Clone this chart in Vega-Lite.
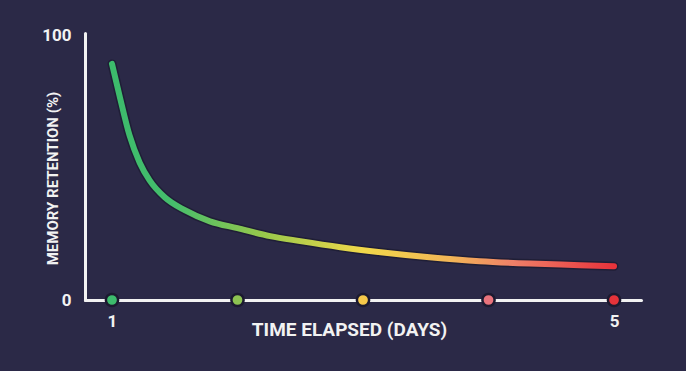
{
  "$schema": "https://vega.github.io/schema/vega-lite/v6.json",
  "autosize": {"type": "none"},
  "width": 556,
  "height": 267,
  "padding": {"left": 85, "top": 33, "right": 45, "bottom": 71},
  "background": "#2b2947",
  "config": {
    "view": {"stroke": null},
    "font": "Roboto",
    "axis": {
      "domainColor": "#f2f2f2",
      "domainWidth": 3,
      "domainCap": "round",
      "ticks": false,
      "grid": false,
      "labelColor": "#f2f2f2",
      "labelFont": "Roboto",
      "labelFontWeight": "bold",
      "labelFontSize": 17,
      "titleColor": "#f2f2f2",
      "titleFont": "Roboto",
      "titleFontWeight": "bold"
    }
  },
  "datasets": {
    "curve": [
      {"day": 1.0, "retention": 89.4},
      {"day": 1.06, "retention": 77.4},
      {"day": 1.14, "retention": 62.3},
      {"day": 1.22, "retention": 52.1},
      {"day": 1.3, "retention": 45.3},
      {"day": 1.42, "retention": 38.9},
      {"day": 1.58, "retention": 34.0},
      {"day": 1.78, "retention": 29.8},
      {"day": 2.0, "retention": 27.2},
      {"day": 2.26, "retention": 24.2},
      {"day": 2.5, "retention": 22.3},
      {"day": 2.82, "retention": 20.0},
      {"day": 3.14, "retention": 18.1},
      {"day": 3.53, "retention": 16.2},
      {"day": 3.93, "retention": 14.7},
      {"day": 4.33, "retention": 13.8},
      {"day": 4.73, "retention": 13.2},
      {"day": 5.0, "retention": 12.8}
    ],
    "days": [
      {"day": 1, "retention": 0},
      {"day": 2, "retention": 0},
      {"day": 3, "retention": 0},
      {"day": 4, "retention": 0},
      {"day": 5, "retention": 0}
    ]
  },
  "encoding": {
    "x": {
      "field": "day",
      "type": "quantitative",
      "scale": {"domain": [0.785, 5.215], "nice": false, "zero": false},
      "axis": {
        "values": [1, 5],
        "labelPadding": 13,
        "title": "TIME ELAPSED (DAYS)",
        "titleFontSize": 19,
        "titleX": 264,
        "titleY": 29,
        "titleBaseline": "middle",
        "titleAlign": "center"
      }
    },
    "y": {
      "field": "retention",
      "type": "quantitative",
      "scale": {"domain": [0, 101.1], "nice": false},
      "axis": {
        "values": [0, 100],
        "labelPadding": 14,
        "title": "MEMORY RETENTION (%)",
        "titleFontSize": 15,
        "titleAngle": 270,
        "titleX": -33,
        "titleY": 145,
        "titleBaseline": "middle",
        "titleAlign": "center"
      }
    }
  },
  "layer": [
    {
      "data": {"name": "curve"},
      "mark": {"type": "line", "interpolate": "monotone", "stroke": "#161528", "strokeWidth": 9, "strokeOpacity": 0.55, "strokeCap": "round"}
    },
    {
      "data": {"name": "curve"},
      "mark": {
        "type": "line",
        "interpolate": "monotone",
        "strokeWidth": 6,
        "strokeCap": "round",
        "color": {
          "gradient": "linear",
          "x1": 0, "y1": 0, "x2": 1, "y2": 0,
          "stops": [
            {"offset": 0, "color": "#3cbb6c"},
            {"offset": 0.12, "color": "#45be6c"},
            {"offset": 0.3, "color": "#97c84b"},
            {"offset": 0.5, "color": "#f1d84a"},
            {"offset": 0.68, "color": "#f2b457"},
            {"offset": 0.8, "color": "#ef7f68"},
            {"offset": 1, "color": "#e8333b"}
          ]
        }
      }
    },
    {
      "data": {"name": "days"},
      "mark": {"type": "point", "filled": true, "size": 150, "stroke": "#1c1a30", "strokeWidth": 2.5, "opacity": 1},
      "encoding": {
        "color": {
          "field": "day",
          "type": "ordinal",
          "scale": {"domain": [1, 2, 3, 4, 5], "range": ["#3dbb6d", "#8dc352", "#f6c84a", "#e8737c", "#e5333a"]},
          "legend": null
        }
      }
    }
  ]
}
